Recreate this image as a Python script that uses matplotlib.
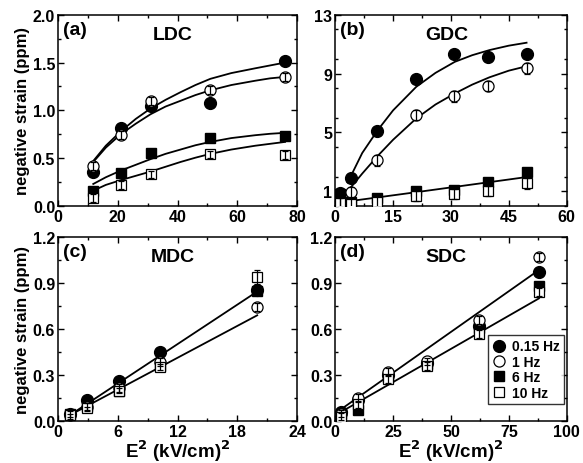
import matplotlib
matplotlib.use("Agg")
import matplotlib.pyplot as plt
from matplotlib.ticker import MultipleLocator, FormatStrFormatter

plt.rcParams['font.family'] = ['Liberation Sans', 'DejaVu Sans']
plt.rcParams['font.weight'] = 'bold'
plt.rcParams['axes.labelweight'] = 'bold'

# ---- (a) LDC ----
ldc_x = [11.8, 21, 31, 51, 76]
ldc_015 = [0.35, 0.82, 1.05, 1.08, 1.52]
ldc_1 = [0.42, 0.74, 1.10, 1.21, 1.35]
ldc_6 = [0.16, 0.34, 0.55, 0.71, 0.73]
ldc_10 = [0.08, 0.22, 0.33, 0.54, 0.53]
# fit curves
ldc_fit_x = [11.8, 16, 21, 26, 31, 36, 41, 46, 51, 58, 66, 71, 76]
ldc_fit_015 = [0.47, 0.63, 0.78, 0.91, 1.02, 1.11, 1.19, 1.265, 1.33, 1.39, 1.44, 1.47, 1.50]
ldc_fit_1 = [0.46, 0.61, 0.75, 0.86, 0.96, 1.04, 1.10, 1.16, 1.21, 1.265, 1.31, 1.335, 1.35]
ldc_fit_6 = [0.23, 0.30, 0.37, 0.43, 0.49, 0.545, 0.59, 0.635, 0.67, 0.71, 0.74, 0.755, 0.765]
ldc_fit_10 = [0.16, 0.22, 0.27, 0.315, 0.36, 0.41, 0.46, 0.505, 0.545, 0.59, 0.63, 0.65, 0.67]

# ---- (b) GDC ----
gdc_x = [1.2, 4, 10.7, 21, 30.7, 39.5, 49.6]
gdc_015 = [0.85, 1.9, 5.1, 8.64, 10.3, 10.1, 10.36]
gdc_1 = [0.25, 0.96, 3.1, 6.2, 7.45, 8.14, 9.35]
gdc_6 = [0.8, 0.25, 0.53, 1.03, 1.08, 1.6, 2.3]
gdc_10 = [0.2, 0.16, 0.3, 0.69, 0.8, 1.03, 1.53]
gdc_fit_x1 = [3.2, 4, 7, 11, 15, 21, 26, 31, 35.5, 40, 45, 49.6]
gdc_fit_015 = [1.6, 2.0, 3.6, 5.15, 6.5, 8.1, 9.05, 9.8, 10.25, 10.6, 10.9, 11.1]
gdc_fit_x2 = [2, 4, 7, 11, 15, 21, 26, 31, 35.5, 40, 45, 49.6]
gdc_fit_1 = [0.7, 1.25, 2.2, 3.4, 4.5, 5.95, 6.9, 7.65, 8.25, 8.75, 9.2, 9.5]
gdc_fit_x3 = [1.6, 20, 49.2]
gdc_fit_sq = [0.25, 0.9, 1.95]

# ---- (c) MDC ----
mdc_x = [1.2, 2.9, 6.1, 10.2, 20]
mdc_015 = [0.05, 0.137, 0.265, 0.45, 0.855]
mdc_1 = [0.04, 0.094, 0.217, 0.384, 0.745]
mdc_6 = [0.045, 0.10, 0.20, 0.36, 0.85]
mdc_10 = [0.04, 0.085, 0.20, 0.355, 0.94]
mdc_10_err = [0.01, 0.01, 0.015, 0.02, 0.045]
mdc_fit_x = [1.2, 20]
mdc_fit_hi = [0.04, 0.845]
mdc_fit_lo = [0.04, 0.69]

# ---- (d) SDC ----
sdc_x = [2.5, 10, 23, 39.5, 62, 88]
sdc_015 = [0.062, 0.137, 0.30, 0.38, 0.62, 0.975]
sdc_1 = [0.05, 0.15, 0.32, 0.39, 0.66, 1.07]
sdc_6 = [0.05, 0.073, 0.29, 0.37, 0.61, 0.88]
sdc_10 = [0.03, 0.11, 0.275, 0.36, 0.57, 0.84]
sdc_fit_x = [1.3, 88]
sdc_fit_hi = [0.065, 0.985]
sdc_fit_lo = [0.05, 0.80]

labels = ['0.15 Hz', '1 Hz', '6 Hz', '10 Hz']


def style_axes(ax, xlim, ylim, xmaj, xmin, ymaj, ymin):
    ax.set_xlim(*xlim)
    ax.set_ylim(*ylim)
    ax.xaxis.set_major_locator(MultipleLocator(xmaj))
    ax.xaxis.set_minor_locator(MultipleLocator(xmin))
    ax.yaxis.set_major_locator(MultipleLocator(ymaj))
    ax.yaxis.set_minor_locator(MultipleLocator(ymin))
    ax.tick_params(which='both', direction='in', top=True, right=True,
                   labelsize=11.5, width=1, pad=2)
    ax.tick_params(which='major', length=4)
    ax.tick_params(which='minor', length=2)
    for lbl in ax.get_xticklabels() + ax.get_yticklabels():
        lbl.set_fontweight('bold')
    for s in ax.spines.values():
        s.set_linewidth(1.1)


def draw_points(ax, x, s015, s1, s6, s10, err1, err10):
    ax.plot(x, s6, 's', ms=7.5, mfc='black', mec='black', zorder=3, label=labels[2])
    ax.plot(x, s015, 'o', ms=8.5, mfc='black', mec='black', zorder=3, label=labels[0])
    ax.plot(x, s1, 'o', ms=8, mfc='white', mec='black', mew=0.9, zorder=4, label=labels[1])
    ax.plot(x, s10, 's', ms=7, mfc='white', mec='black', mew=0.9, zorder=4, label=labels[3])
    ax.errorbar(x, s1, yerr=err1, fmt='none', ecolor='black', elinewidth=0.9,
                capsize=2, capthick=0.9, zorder=5)
    ax.errorbar(x, s10, yerr=err10, fmt='none', ecolor='black', elinewidth=0.9,
                capsize=2, capthick=0.9, zorder=5)


def fit_line(ax, fx, fy):
    ax.plot(fx, fy, '-', color='black', lw=1.3, zorder=2)


fig = plt.figure(figsize=(5.83, 4.64), dpi=100)
ax_a = fig.add_axes([0.0995, 0.554, 0.41, 0.412])
ax_b = fig.add_axes([0.575, 0.554, 0.397, 0.412])
ax_c = fig.add_axes([0.0995, 0.09, 0.41, 0.397])
ax_d = fig.add_axes([0.575, 0.09, 0.397, 0.397])

ylab = 'negative strain (ppm)'
xlab = 'E$^\\mathbf{2}$ (kV/cm)$^\\mathbf{2}$'

# (a)
draw_points(ax_a, ldc_x, ldc_015, ldc_1, ldc_6, ldc_10, 0.04, 0.04)
for fy in (ldc_fit_015, ldc_fit_1, ldc_fit_6, ldc_fit_10):
    fit_line(ax_a, ldc_fit_x, fy)
style_axes(ax_a, (0, 80), (0, 2.0), 20, 10, 0.5, 0.25)
ax_a.yaxis.set_major_formatter(FormatStrFormatter('%.1f'))
ax_a.set_ylabel(ylab, fontsize=12, fontweight='bold', labelpad=2)

# (b)
draw_points(ax_b, gdc_x, gdc_015, gdc_1, gdc_6, gdc_10, 0.35, 0.35)
fit_line(ax_b, gdc_fit_x1, gdc_fit_015)
fit_line(ax_b, gdc_fit_x2, gdc_fit_1)
fit_line(ax_b, gdc_fit_x3, gdc_fit_sq)
style_axes(ax_b, (0, 60), (0, 13), 15, 7.5, 4, 2)
ax_b.set_yticks([1, 5, 9, 13])

# (c)
draw_points(ax_c, mdc_x, mdc_015, mdc_1, mdc_6, mdc_10, 0.025, mdc_10_err)
fit_line(ax_c, mdc_fit_x, mdc_fit_hi)
fit_line(ax_c, mdc_fit_x, mdc_fit_lo)
style_axes(ax_c, (0, 24), (0, 1.2), 6, 3, 0.3, 0.15)
ax_c.yaxis.set_major_formatter(FormatStrFormatter('%.1f'))
ax_c.set_ylabel(ylab, fontsize=12, fontweight='bold', labelpad=2)
ax_c.set_xlabel(xlab, fontsize=13.5, fontweight='bold', labelpad=-1)

# (d)
draw_points(ax_d, sdc_x, sdc_015, sdc_1, sdc_6, sdc_10, 0.025, 0.025)
fit_line(ax_d, sdc_fit_x, sdc_fit_hi)
fit_line(ax_d, sdc_fit_x, sdc_fit_lo)
style_axes(ax_d, (0, 100), (0, 1.2), 25, 12.5, 0.3, 0.15)
ax_d.yaxis.set_major_formatter(FormatStrFormatter('%.1f'))
ax_d.set_xlabel(xlab, fontsize=13.5, fontweight='bold', labelpad=-1)

handles, hl = ax_d.get_legend_handles_labels()
order = [hl.index(l) for l in labels]
leg = ax_d.legend([handles[i] for i in order], [hl[i] for i in order],
                  loc='lower right', bbox_to_anchor=(1.0, 0.08),
                  fontsize=10, frameon=True, fancybox=False, edgecolor='black',
                  handletextpad=0.4, borderpad=0.3, labelspacing=0.1,
                  handlelength=1.0, borderaxespad=0.2)
leg.get_frame().set_linewidth(1.0)
for t in leg.get_texts():
    t.set_fontweight('bold')

for ax, tag, name in ((ax_a, '(a)', 'LDC'), (ax_b, '(b)', 'GDC'),
                      (ax_c, '(c)', 'MDC'), (ax_d, '(d)', 'SDC')):
    ax.text(0.02, 0.97, tag, transform=ax.transAxes, fontsize=14,
            fontweight='bold', va='top', ha='left')
    ax.text(0.48, 0.94, name, transform=ax.transAxes, fontsize=14,
            fontweight='bold', va='top', ha='center')

fig.savefig('out.png', dpi=100)
